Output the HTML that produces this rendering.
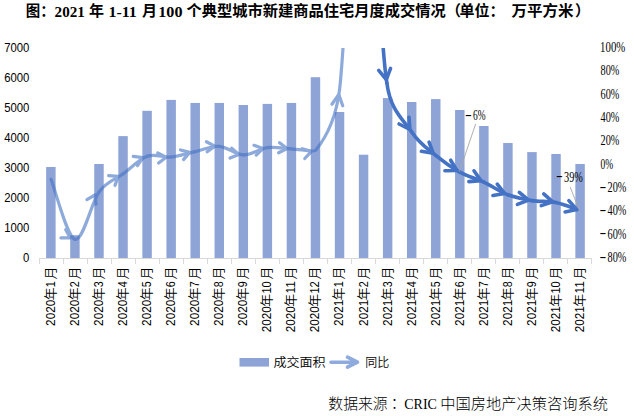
<!DOCTYPE html>
<html><head><meta charset="utf-8"><style>html,body{margin:0;padding:0;background:#fff;}svg{display:block;}</style></head>
<body>
<svg width="634" height="416" viewBox="0 0 634 416">
<defs><clipPath id="pc"><rect x="39.4" y="48.0" width="552.92" height="212.0"/></clipPath></defs>
<rect width="634" height="416" fill="#fff"/>
<g font-weight="bold" fill="#000">
<text x="25.8" y="16.2" font-family='"Liberation Sans","Noto Sans CJK SC","WenQuanYi Zen Hei",sans-serif' font-weight="700" font-size="15" textLength="29" lengthAdjust="spacingAndGlyphs">图：</text>
<text x="54.6" y="17" font-family='"Liberation Serif",serif' font-size="15" textLength="30.2" lengthAdjust="spacingAndGlyphs">2021</text>
<text x="89" y="16.2" font-family='"Liberation Sans","Noto Sans CJK SC","WenQuanYi Zen Hei",sans-serif' font-weight="700" font-size="15">年</text>
<text x="108.4" y="17" font-family='"Liberation Serif",serif' font-size="15" textLength="28.4" lengthAdjust="spacingAndGlyphs">1-11</text>
<text x="141.9" y="16.2" font-family='"Liberation Sans","Noto Sans CJK SC","WenQuanYi Zen Hei",sans-serif' font-weight="700" font-size="15">月</text>
<text x="158.3" y="17" font-family='"Liberation Serif",serif' font-size="15" textLength="24.2" lengthAdjust="spacingAndGlyphs">100</text>
<text x="186.6" y="16.2" font-family='"Liberation Sans","Noto Sans CJK SC","WenQuanYi Zen Hei",sans-serif' font-weight="700" font-size="15" textLength="274.5" lengthAdjust="spacingAndGlyphs">个典型城市新建商品住宅月度成交情况（</text>
<text x="459.5" y="16.2" font-family='"Liberation Sans","Noto Sans CJK SC","WenQuanYi Zen Hei",sans-serif' font-weight="700" font-size="15" textLength="45" lengthAdjust="spacingAndGlyphs">单位：</text>
<text x="511.4" y="16.2" font-family='"Liberation Sans","Noto Sans CJK SC","WenQuanYi Zen Hei",sans-serif' font-weight="700" font-size="15" textLength="62" lengthAdjust="spacingAndGlyphs">万平方米</text>
<text x="575" y="16.2" font-family='"Liberation Sans","Noto Sans CJK SC","WenQuanYi Zen Hei",sans-serif' font-weight="700" font-size="15" textLength="15" lengthAdjust="spacingAndGlyphs">）</text>
</g>
<g font-family='"Liberation Sans",sans-serif' font-size="12" fill="#000" text-anchor="end">
<text x="29.4" y="51.90" textLength="25.20" lengthAdjust="spacingAndGlyphs">7000</text>
<text x="29.4" y="81.90" textLength="25.20" lengthAdjust="spacingAndGlyphs">6000</text>
<text x="29.4" y="111.90" textLength="25.20" lengthAdjust="spacingAndGlyphs">5000</text>
<text x="29.4" y="141.90" textLength="25.20" lengthAdjust="spacingAndGlyphs">4000</text>
<text x="29.4" y="171.90" textLength="25.20" lengthAdjust="spacingAndGlyphs">3000</text>
<text x="29.4" y="201.90" textLength="25.20" lengthAdjust="spacingAndGlyphs">2000</text>
<text x="29.4" y="231.90" textLength="25.20" lengthAdjust="spacingAndGlyphs">1000</text>
<text x="29.4" y="261.90" textLength="6.30" lengthAdjust="spacingAndGlyphs">0</text>
</g>
<g font-family='"Liberation Serif",serif' font-size="13.8" fill="#000">
<text x="600.10" y="52.00" textLength="25.20" lengthAdjust="spacingAndGlyphs">100%</text>
<text x="600.50" y="75.33" textLength="18.80" lengthAdjust="spacingAndGlyphs">80%</text>
<text x="600.50" y="98.67" textLength="18.80" lengthAdjust="spacingAndGlyphs">60%</text>
<text x="600.50" y="122.00" textLength="18.80" lengthAdjust="spacingAndGlyphs">40%</text>
<text x="600.50" y="145.33" textLength="18.80" lengthAdjust="spacingAndGlyphs">20%</text>
<text x="600.50" y="168.67" textLength="12.60" lengthAdjust="spacingAndGlyphs">0%</text>
<text x="599.50" y="190.60" textLength="6.8" lengthAdjust="spacingAndGlyphs">-</text><text x="607.50" y="192.00" textLength="18.80" lengthAdjust="spacingAndGlyphs">20%</text>
<text x="599.50" y="213.93" textLength="6.8" lengthAdjust="spacingAndGlyphs">-</text><text x="607.50" y="215.33" textLength="18.80" lengthAdjust="spacingAndGlyphs">40%</text>
<text x="599.50" y="237.27" textLength="6.8" lengthAdjust="spacingAndGlyphs">-</text><text x="607.50" y="238.67" textLength="18.80" lengthAdjust="spacingAndGlyphs">60%</text>
<text x="599.50" y="260.60" textLength="6.8" lengthAdjust="spacingAndGlyphs">-</text><text x="607.50" y="262.00" textLength="18.80" lengthAdjust="spacingAndGlyphs">80%</text>
</g>
<g fill="#8EA3D6">
<rect x="46.15" y="167.00" width="9.45" height="91.00"/>
<rect x="70.20" y="235.20" width="9.45" height="22.80"/>
<rect x="94.26" y="164.00" width="9.45" height="94.00"/>
<rect x="118.31" y="136.10" width="9.45" height="121.90"/>
<rect x="142.37" y="110.80" width="9.45" height="147.20"/>
<rect x="166.43" y="99.90" width="9.45" height="158.10"/>
<rect x="190.48" y="102.95" width="9.45" height="155.05"/>
<rect x="214.53" y="102.95" width="9.45" height="155.05"/>
<rect x="238.59" y="105.00" width="9.45" height="153.00"/>
<rect x="262.64" y="103.90" width="9.45" height="154.10"/>
<rect x="286.70" y="102.95" width="9.45" height="155.05"/>
<rect x="310.75" y="77.20" width="9.45" height="180.80"/>
<rect x="334.81" y="112.00" width="9.45" height="146.00"/>
<rect x="358.86" y="154.70" width="9.45" height="103.30"/>
<rect x="382.92" y="98.10" width="9.45" height="159.90"/>
<rect x="406.97" y="102.00" width="9.45" height="156.00"/>
<rect x="431.03" y="99.10" width="9.45" height="158.90"/>
<rect x="455.08" y="110.00" width="9.45" height="148.00"/>
<rect x="479.14" y="126.00" width="9.45" height="132.00"/>
<rect x="503.19" y="143.00" width="9.45" height="115.00"/>
<rect x="527.25" y="152.10" width="9.45" height="105.90"/>
<rect x="551.30" y="154.00" width="9.45" height="104.00"/>
<rect x="575.36" y="164.00" width="9.45" height="94.00"/>
</g>
<path d="M39,258.5H592M39.50,258.5V264.0M63.50,258.5V264.0M87.50,258.5V264.0M111.50,258.5V264.0M135.50,258.5V264.0M159.50,258.5V264.0M183.50,258.5V264.0M207.50,258.5V264.0M231.50,258.5V264.0M255.50,258.5V264.0M279.50,258.5V264.0M303.50,258.5V264.0M327.50,258.5V264.0M351.50,258.5V264.0M375.50,258.5V264.0M399.50,258.5V264.0M423.50,258.5V264.0M447.50,258.5V264.0M471.50,258.5V264.0M495.50,258.5V264.0M519.50,258.5V264.0M543.50,258.5V264.0M567.50,258.5V264.0M591.50,258.5V264.0" stroke="#D9D9D9" stroke-width="1" fill="none"/>
<g fill="#000">
<g transform="translate(55.00,325.60) rotate(-90)"><text x="-0.3" y="0" font-family='"Liberation Sans",sans-serif' font-size="12.6" textLength="26.2" lengthAdjust="spacingAndGlyphs">2020</text><text x="25.3" y="0" font-family='"Liberation Sans","Noto Sans CJK SC","WenQuanYi Zen Hei",sans-serif' font-weight="350" font-size="12.8">年</text><text x="38.40" y="0" font-family='"Liberation Sans",sans-serif' font-size="12.6" textLength="6.00" lengthAdjust="spacingAndGlyphs">1</text><text x="46.10" y="0" font-family='"Liberation Sans","Noto Sans CJK SC","WenQuanYi Zen Hei",sans-serif' font-weight="350" font-size="12.8">月</text></g>
<g transform="translate(79.04,325.60) rotate(-90)"><text x="-0.3" y="0" font-family='"Liberation Sans",sans-serif' font-size="12.6" textLength="26.2" lengthAdjust="spacingAndGlyphs">2020</text><text x="25.3" y="0" font-family='"Liberation Sans","Noto Sans CJK SC","WenQuanYi Zen Hei",sans-serif' font-weight="350" font-size="12.8">年</text><text x="38.40" y="0" font-family='"Liberation Sans",sans-serif' font-size="12.6" textLength="6.00" lengthAdjust="spacingAndGlyphs">2</text><text x="46.10" y="0" font-family='"Liberation Sans","Noto Sans CJK SC","WenQuanYi Zen Hei",sans-serif' font-weight="350" font-size="12.8">月</text></g>
<g transform="translate(103.08,325.60) rotate(-90)"><text x="-0.3" y="0" font-family='"Liberation Sans",sans-serif' font-size="12.6" textLength="26.2" lengthAdjust="spacingAndGlyphs">2020</text><text x="25.3" y="0" font-family='"Liberation Sans","Noto Sans CJK SC","WenQuanYi Zen Hei",sans-serif' font-weight="350" font-size="12.8">年</text><text x="38.40" y="0" font-family='"Liberation Sans",sans-serif' font-size="12.6" textLength="6.00" lengthAdjust="spacingAndGlyphs">3</text><text x="46.10" y="0" font-family='"Liberation Sans","Noto Sans CJK SC","WenQuanYi Zen Hei",sans-serif' font-weight="350" font-size="12.8">月</text></g>
<g transform="translate(127.12,325.60) rotate(-90)"><text x="-0.3" y="0" font-family='"Liberation Sans",sans-serif' font-size="12.6" textLength="26.2" lengthAdjust="spacingAndGlyphs">2020</text><text x="25.3" y="0" font-family='"Liberation Sans","Noto Sans CJK SC","WenQuanYi Zen Hei",sans-serif' font-weight="350" font-size="12.8">年</text><text x="38.40" y="0" font-family='"Liberation Sans",sans-serif' font-size="12.6" textLength="6.00" lengthAdjust="spacingAndGlyphs">4</text><text x="46.10" y="0" font-family='"Liberation Sans","Noto Sans CJK SC","WenQuanYi Zen Hei",sans-serif' font-weight="350" font-size="12.8">月</text></g>
<g transform="translate(151.16,325.60) rotate(-90)"><text x="-0.3" y="0" font-family='"Liberation Sans",sans-serif' font-size="12.6" textLength="26.2" lengthAdjust="spacingAndGlyphs">2020</text><text x="25.3" y="0" font-family='"Liberation Sans","Noto Sans CJK SC","WenQuanYi Zen Hei",sans-serif' font-weight="350" font-size="12.8">年</text><text x="38.40" y="0" font-family='"Liberation Sans",sans-serif' font-size="12.6" textLength="6.00" lengthAdjust="spacingAndGlyphs">5</text><text x="46.10" y="0" font-family='"Liberation Sans","Noto Sans CJK SC","WenQuanYi Zen Hei",sans-serif' font-weight="350" font-size="12.8">月</text></g>
<g transform="translate(175.20,325.60) rotate(-90)"><text x="-0.3" y="0" font-family='"Liberation Sans",sans-serif' font-size="12.6" textLength="26.2" lengthAdjust="spacingAndGlyphs">2020</text><text x="25.3" y="0" font-family='"Liberation Sans","Noto Sans CJK SC","WenQuanYi Zen Hei",sans-serif' font-weight="350" font-size="12.8">年</text><text x="38.40" y="0" font-family='"Liberation Sans",sans-serif' font-size="12.6" textLength="6.00" lengthAdjust="spacingAndGlyphs">6</text><text x="46.10" y="0" font-family='"Liberation Sans","Noto Sans CJK SC","WenQuanYi Zen Hei",sans-serif' font-weight="350" font-size="12.8">月</text></g>
<g transform="translate(199.24,325.60) rotate(-90)"><text x="-0.3" y="0" font-family='"Liberation Sans",sans-serif' font-size="12.6" textLength="26.2" lengthAdjust="spacingAndGlyphs">2020</text><text x="25.3" y="0" font-family='"Liberation Sans","Noto Sans CJK SC","WenQuanYi Zen Hei",sans-serif' font-weight="350" font-size="12.8">年</text><text x="38.40" y="0" font-family='"Liberation Sans",sans-serif' font-size="12.6" textLength="6.00" lengthAdjust="spacingAndGlyphs">7</text><text x="46.10" y="0" font-family='"Liberation Sans","Noto Sans CJK SC","WenQuanYi Zen Hei",sans-serif' font-weight="350" font-size="12.8">月</text></g>
<g transform="translate(223.28,325.60) rotate(-90)"><text x="-0.3" y="0" font-family='"Liberation Sans",sans-serif' font-size="12.6" textLength="26.2" lengthAdjust="spacingAndGlyphs">2020</text><text x="25.3" y="0" font-family='"Liberation Sans","Noto Sans CJK SC","WenQuanYi Zen Hei",sans-serif' font-weight="350" font-size="12.8">年</text><text x="38.40" y="0" font-family='"Liberation Sans",sans-serif' font-size="12.6" textLength="6.00" lengthAdjust="spacingAndGlyphs">8</text><text x="46.10" y="0" font-family='"Liberation Sans","Noto Sans CJK SC","WenQuanYi Zen Hei",sans-serif' font-weight="350" font-size="12.8">月</text></g>
<g transform="translate(247.32,325.60) rotate(-90)"><text x="-0.3" y="0" font-family='"Liberation Sans",sans-serif' font-size="12.6" textLength="26.2" lengthAdjust="spacingAndGlyphs">2020</text><text x="25.3" y="0" font-family='"Liberation Sans","Noto Sans CJK SC","WenQuanYi Zen Hei",sans-serif' font-weight="350" font-size="12.8">年</text><text x="38.40" y="0" font-family='"Liberation Sans",sans-serif' font-size="12.6" textLength="6.00" lengthAdjust="spacingAndGlyphs">9</text><text x="46.10" y="0" font-family='"Liberation Sans","Noto Sans CJK SC","WenQuanYi Zen Hei",sans-serif' font-weight="350" font-size="12.8">月</text></g>
<g transform="translate(271.36,332.00) rotate(-90)"><text x="-0.3" y="0" font-family='"Liberation Sans",sans-serif' font-size="12.6" textLength="26.2" lengthAdjust="spacingAndGlyphs">2020</text><text x="25.3" y="0" font-family='"Liberation Sans","Noto Sans CJK SC","WenQuanYi Zen Hei",sans-serif' font-weight="350" font-size="12.8">年</text><text x="38.40" y="0" font-family='"Liberation Sans",sans-serif' font-size="12.6" textLength="12.40" lengthAdjust="spacingAndGlyphs">10</text><text x="52.50" y="0" font-family='"Liberation Sans","Noto Sans CJK SC","WenQuanYi Zen Hei",sans-serif' font-weight="350" font-size="12.8">月</text></g>
<g transform="translate(295.40,332.00) rotate(-90)"><text x="-0.3" y="0" font-family='"Liberation Sans",sans-serif' font-size="12.6" textLength="26.2" lengthAdjust="spacingAndGlyphs">2020</text><text x="25.3" y="0" font-family='"Liberation Sans","Noto Sans CJK SC","WenQuanYi Zen Hei",sans-serif' font-weight="350" font-size="12.8">年</text><text x="38.40" y="0" font-family='"Liberation Sans",sans-serif' font-size="12.6" textLength="12.40" lengthAdjust="spacingAndGlyphs">11</text><text x="52.50" y="0" font-family='"Liberation Sans","Noto Sans CJK SC","WenQuanYi Zen Hei",sans-serif' font-weight="350" font-size="12.8">月</text></g>
<g transform="translate(319.44,332.00) rotate(-90)"><text x="-0.3" y="0" font-family='"Liberation Sans",sans-serif' font-size="12.6" textLength="26.2" lengthAdjust="spacingAndGlyphs">2020</text><text x="25.3" y="0" font-family='"Liberation Sans","Noto Sans CJK SC","WenQuanYi Zen Hei",sans-serif' font-weight="350" font-size="12.8">年</text><text x="38.40" y="0" font-family='"Liberation Sans",sans-serif' font-size="12.6" textLength="12.40" lengthAdjust="spacingAndGlyphs">12</text><text x="52.50" y="0" font-family='"Liberation Sans","Noto Sans CJK SC","WenQuanYi Zen Hei",sans-serif' font-weight="350" font-size="12.8">月</text></g>
<g transform="translate(343.48,325.60) rotate(-90)"><text x="-0.3" y="0" font-family='"Liberation Sans",sans-serif' font-size="12.6" textLength="26.2" lengthAdjust="spacingAndGlyphs">2021</text><text x="25.3" y="0" font-family='"Liberation Sans","Noto Sans CJK SC","WenQuanYi Zen Hei",sans-serif' font-weight="350" font-size="12.8">年</text><text x="38.40" y="0" font-family='"Liberation Sans",sans-serif' font-size="12.6" textLength="6.00" lengthAdjust="spacingAndGlyphs">1</text><text x="46.10" y="0" font-family='"Liberation Sans","Noto Sans CJK SC","WenQuanYi Zen Hei",sans-serif' font-weight="350" font-size="12.8">月</text></g>
<g transform="translate(367.52,325.60) rotate(-90)"><text x="-0.3" y="0" font-family='"Liberation Sans",sans-serif' font-size="12.6" textLength="26.2" lengthAdjust="spacingAndGlyphs">2021</text><text x="25.3" y="0" font-family='"Liberation Sans","Noto Sans CJK SC","WenQuanYi Zen Hei",sans-serif' font-weight="350" font-size="12.8">年</text><text x="38.40" y="0" font-family='"Liberation Sans",sans-serif' font-size="12.6" textLength="6.00" lengthAdjust="spacingAndGlyphs">2</text><text x="46.10" y="0" font-family='"Liberation Sans","Noto Sans CJK SC","WenQuanYi Zen Hei",sans-serif' font-weight="350" font-size="12.8">月</text></g>
<g transform="translate(391.56,325.60) rotate(-90)"><text x="-0.3" y="0" font-family='"Liberation Sans",sans-serif' font-size="12.6" textLength="26.2" lengthAdjust="spacingAndGlyphs">2021</text><text x="25.3" y="0" font-family='"Liberation Sans","Noto Sans CJK SC","WenQuanYi Zen Hei",sans-serif' font-weight="350" font-size="12.8">年</text><text x="38.40" y="0" font-family='"Liberation Sans",sans-serif' font-size="12.6" textLength="6.00" lengthAdjust="spacingAndGlyphs">3</text><text x="46.10" y="0" font-family='"Liberation Sans","Noto Sans CJK SC","WenQuanYi Zen Hei",sans-serif' font-weight="350" font-size="12.8">月</text></g>
<g transform="translate(415.60,325.60) rotate(-90)"><text x="-0.3" y="0" font-family='"Liberation Sans",sans-serif' font-size="12.6" textLength="26.2" lengthAdjust="spacingAndGlyphs">2021</text><text x="25.3" y="0" font-family='"Liberation Sans","Noto Sans CJK SC","WenQuanYi Zen Hei",sans-serif' font-weight="350" font-size="12.8">年</text><text x="38.40" y="0" font-family='"Liberation Sans",sans-serif' font-size="12.6" textLength="6.00" lengthAdjust="spacingAndGlyphs">4</text><text x="46.10" y="0" font-family='"Liberation Sans","Noto Sans CJK SC","WenQuanYi Zen Hei",sans-serif' font-weight="350" font-size="12.8">月</text></g>
<g transform="translate(439.64,325.60) rotate(-90)"><text x="-0.3" y="0" font-family='"Liberation Sans",sans-serif' font-size="12.6" textLength="26.2" lengthAdjust="spacingAndGlyphs">2021</text><text x="25.3" y="0" font-family='"Liberation Sans","Noto Sans CJK SC","WenQuanYi Zen Hei",sans-serif' font-weight="350" font-size="12.8">年</text><text x="38.40" y="0" font-family='"Liberation Sans",sans-serif' font-size="12.6" textLength="6.00" lengthAdjust="spacingAndGlyphs">5</text><text x="46.10" y="0" font-family='"Liberation Sans","Noto Sans CJK SC","WenQuanYi Zen Hei",sans-serif' font-weight="350" font-size="12.8">月</text></g>
<g transform="translate(463.68,325.60) rotate(-90)"><text x="-0.3" y="0" font-family='"Liberation Sans",sans-serif' font-size="12.6" textLength="26.2" lengthAdjust="spacingAndGlyphs">2021</text><text x="25.3" y="0" font-family='"Liberation Sans","Noto Sans CJK SC","WenQuanYi Zen Hei",sans-serif' font-weight="350" font-size="12.8">年</text><text x="38.40" y="0" font-family='"Liberation Sans",sans-serif' font-size="12.6" textLength="6.00" lengthAdjust="spacingAndGlyphs">6</text><text x="46.10" y="0" font-family='"Liberation Sans","Noto Sans CJK SC","WenQuanYi Zen Hei",sans-serif' font-weight="350" font-size="12.8">月</text></g>
<g transform="translate(487.72,325.60) rotate(-90)"><text x="-0.3" y="0" font-family='"Liberation Sans",sans-serif' font-size="12.6" textLength="26.2" lengthAdjust="spacingAndGlyphs">2021</text><text x="25.3" y="0" font-family='"Liberation Sans","Noto Sans CJK SC","WenQuanYi Zen Hei",sans-serif' font-weight="350" font-size="12.8">年</text><text x="38.40" y="0" font-family='"Liberation Sans",sans-serif' font-size="12.6" textLength="6.00" lengthAdjust="spacingAndGlyphs">7</text><text x="46.10" y="0" font-family='"Liberation Sans","Noto Sans CJK SC","WenQuanYi Zen Hei",sans-serif' font-weight="350" font-size="12.8">月</text></g>
<g transform="translate(511.76,325.60) rotate(-90)"><text x="-0.3" y="0" font-family='"Liberation Sans",sans-serif' font-size="12.6" textLength="26.2" lengthAdjust="spacingAndGlyphs">2021</text><text x="25.3" y="0" font-family='"Liberation Sans","Noto Sans CJK SC","WenQuanYi Zen Hei",sans-serif' font-weight="350" font-size="12.8">年</text><text x="38.40" y="0" font-family='"Liberation Sans",sans-serif' font-size="12.6" textLength="6.00" lengthAdjust="spacingAndGlyphs">8</text><text x="46.10" y="0" font-family='"Liberation Sans","Noto Sans CJK SC","WenQuanYi Zen Hei",sans-serif' font-weight="350" font-size="12.8">月</text></g>
<g transform="translate(535.80,325.60) rotate(-90)"><text x="-0.3" y="0" font-family='"Liberation Sans",sans-serif' font-size="12.6" textLength="26.2" lengthAdjust="spacingAndGlyphs">2021</text><text x="25.3" y="0" font-family='"Liberation Sans","Noto Sans CJK SC","WenQuanYi Zen Hei",sans-serif' font-weight="350" font-size="12.8">年</text><text x="38.40" y="0" font-family='"Liberation Sans",sans-serif' font-size="12.6" textLength="6.00" lengthAdjust="spacingAndGlyphs">9</text><text x="46.10" y="0" font-family='"Liberation Sans","Noto Sans CJK SC","WenQuanYi Zen Hei",sans-serif' font-weight="350" font-size="12.8">月</text></g>
<g transform="translate(559.84,332.00) rotate(-90)"><text x="-0.3" y="0" font-family='"Liberation Sans",sans-serif' font-size="12.6" textLength="26.2" lengthAdjust="spacingAndGlyphs">2021</text><text x="25.3" y="0" font-family='"Liberation Sans","Noto Sans CJK SC","WenQuanYi Zen Hei",sans-serif' font-weight="350" font-size="12.8">年</text><text x="38.40" y="0" font-family='"Liberation Sans",sans-serif' font-size="12.6" textLength="12.40" lengthAdjust="spacingAndGlyphs">10</text><text x="52.50" y="0" font-family='"Liberation Sans","Noto Sans CJK SC","WenQuanYi Zen Hei",sans-serif' font-weight="350" font-size="12.8">月</text></g>
<g transform="translate(583.88,332.00) rotate(-90)"><text x="-0.3" y="0" font-family='"Liberation Sans",sans-serif' font-size="12.6" textLength="26.2" lengthAdjust="spacingAndGlyphs">2021</text><text x="25.3" y="0" font-family='"Liberation Sans","Noto Sans CJK SC","WenQuanYi Zen Hei",sans-serif' font-weight="350" font-size="12.8">年</text><text x="38.40" y="0" font-family='"Liberation Sans",sans-serif' font-size="12.6" textLength="12.40" lengthAdjust="spacingAndGlyphs">11</text><text x="52.50" y="0" font-family='"Liberation Sans","Noto Sans CJK SC","WenQuanYi Zen Hei",sans-serif' font-weight="350" font-size="12.8">月</text></g>
</g>
<g clip-path="url(#pc)" fill="none" stroke="#4472C4" stroke-linecap="round" stroke-linejoin="round">
<g opacity="0.6" stroke-width="3.2">
<path d="M51.10,179.30C55.11,189.30 67.13,237.22 75.14,239.30"/><path d="M65.72,229.63L70.40,237.90L60.90,237.82"/>
<path d="M75.14,239.30C83.15,241.38 91.17,202.72 99.18,191.80"/><path d="M86.96,199.69L95.10,194.80L95.93,204.26"/>
<path d="M99.18,191.80C107.19,180.88 115.21,179.72 123.22,173.80"/><path d="M108.64,175.57L118.10,176.40L115.01,185.38"/>
<path d="M123.22,173.80C131.23,167.88 139.25,159.10 147.26,156.30"/><path d="M133.27,156.44L142.70,157.60L137.53,165.57"/>
<path d="M147.26,156.30C155.27,153.50 163.29,157.78 171.30,157.00"/><path d="M157.74,152.99L166.20,157.30L158.61,163.02"/>
<path d="M171.30,157.00C179.31,156.22 187.33,153.38 195.34,151.60"/><path d="M180.51,149.99L189.70,152.40L183.51,159.60"/>
<path d="M195.34,151.60C203.35,149.82 211.37,145.75 219.38,146.30"/><path d="M206.39,141.78L214.80,146.20L207.14,151.82"/>
<path d="M219.38,146.30C227.39,146.85 235.41,154.67 243.42,154.90"/><path d="M231.65,148.14L238.80,154.40L230.04,158.08"/>
<path d="M243.42,154.90C251.43,155.13 259.45,148.70 267.46,147.70"/><path d="M254.00,145.35L263.00,148.40L256.32,155.15"/>
<path d="M267.46,147.70C275.47,146.70 283.49,148.42 291.50,148.90"/><path d="M279.55,142.73L287.10,148.50L278.61,152.75"/>
<path d="M291.50,148.90C299.51,149.38 314.40,152.01 315.54,150.60"/><path d="M302.24,148.74L311.30,151.60L304.76,158.49"/>
<path d="M315.54,150.60C323.55,140.68 335.68,122.04 339.58,89.40"/><path d="M331.92,104.23L338.80,94.40L342.71,105.75"/>
<path d="M339.58,89.40C347.59,22.33 355.74,-250.75 363.62,-251.83"/><path d=""/>
</g>
<g stroke-width="3.6">
<path d="M363.62,-251.83C371.50,-252.92 376.35,18.91 386.86,82.88"/><path d="M390.56,68.40L386.32,79.63L378.72,70.35"/>
<path d="M386.86,82.88C390.28,110.19 403.55,119.91 411.70,132.00"/><path d="M409.03,117.29L409.86,129.26L399.07,124.00"/>
<path d="M411.70,132.00C419.85,144.09 427.73,148.76 435.74,155.45"/><path d="M429.07,142.07L433.21,153.34L421.38,151.28"/>
<path d="M435.74,155.45C443.75,162.14 451.77,167.70 459.78,172.13"/><path d="M450.70,160.25L456.89,170.54L444.89,170.76"/>
<path d="M459.78,172.13C467.79,176.57 475.81,178.28 483.82,182.05"/><path d="M473.99,170.79L480.83,180.64L468.88,181.65"/>
<path d="M483.82,182.05C491.83,185.82 499.85,191.68 507.86,194.77"/><path d="M497.25,184.24L504.78,193.58L492.93,195.44"/>
<path d="M507.86,194.77C515.87,197.86 523.89,199.30 531.90,200.60"/><path d="M519.35,192.48L528.64,200.07L517.42,204.33"/>
<path d="M531.90,200.60C539.91,201.90 547.93,200.91 555.94,202.58"/><path d="M543.76,193.91L552.71,201.91L541.31,205.66"/>
<path d="M555.94,202.58C562.41,203.93 571.51,207.48 576.87,209.50"/><path d="M568.90,200.60L576.85,209.59L565.09,211.98"/>
</g>
</g>
<path d="M475.6,124L459.5,171.5M570.2,187.1L579,209.5" stroke="#A6A6A6" stroke-width="0.9" fill="none"/>
<g font-family='"Liberation Serif",serif' font-size="13.8" fill="#000">
<text x="465.00" y="118.70" textLength="6.8" lengthAdjust="spacingAndGlyphs">-</text><text x="473.00" y="120.10" textLength="12.60" lengthAdjust="spacingAndGlyphs">6%</text>
<text x="556.10" y="180.30" textLength="6.8" lengthAdjust="spacingAndGlyphs">-</text><text x="564.10" y="181.70" textLength="18.80" lengthAdjust="spacingAndGlyphs">39%</text>
</g>
<rect x="239.5" y="358" width="29.5" height="8.6" fill="#8EA3D6"/>
<g font-family='"Liberation Sans","Noto Sans CJK SC","WenQuanYi Zen Hei",sans-serif' font-weight="350" font-size="12" fill="#000">
<text x="273.4" y="366.6" textLength="52.2" lengthAdjust="spacingAndGlyphs">成交面积</text>
<text x="365.3" y="366.6" textLength="24" lengthAdjust="spacingAndGlyphs">同比</text>
</g>
<g opacity="0.6" stroke="#4472C4" stroke-width="3.6" stroke-linecap="round" stroke-linejoin="round" fill="none"><path d="M331,362.2H357.5M347.5,357.2L357.5,362.2L347.5,367.2"/></g>
<g fill="#000" font-size="15">
<text x="328.3" y="408.6" font-family='"Liberation Sans","Noto Sans CJK SC","WenQuanYi Zen Hei",sans-serif' font-weight="300" textLength="59.4" lengthAdjust="spacingAndGlyphs">数据来源</text>
<text x="386.9" y="408.6" font-family='"Liberation Sans","Noto Sans CJK TC","Noto Sans CJK JP",sans-serif' font-weight="300">：</text>
<text x="404.3" y="408.8" font-family='"Liberation Serif",serif' font-size="15.5" textLength="32.6" lengthAdjust="spacingAndGlyphs">CRIC</text>
<text x="440.3" y="408.6" font-family='"Liberation Sans","Noto Sans CJK SC","WenQuanYi Zen Hei",sans-serif' font-weight="300" textLength="167.6" lengthAdjust="spacingAndGlyphs">中国房地产决策咨询系统</text>
</g>
</svg>
</body></html>
